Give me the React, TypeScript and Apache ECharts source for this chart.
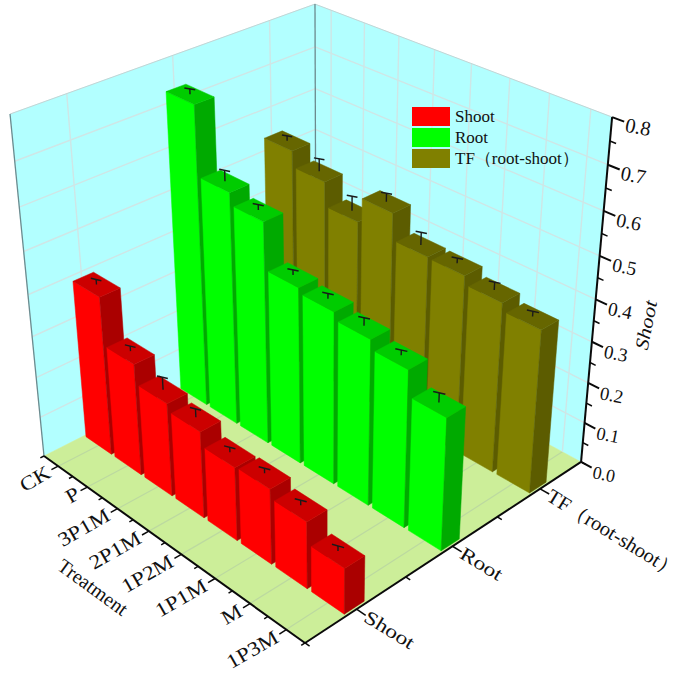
import React, { useEffect, useRef } from "react";
import * as echarts from "echarts";

const treatments = ["CK", "P", "3P1M", "2P1M", "1P2M", "1P1M", "M", "1P3M"];
const depthNames = ["Shoot", "Root", "TF（root-shoot）"];
const zTicks = [0, 0.1, 0.2, 0.3, 0.4, 0.5, 0.6, 0.7, 0.8];
const zMinor = [0.05, 0.15, 0.25, 0.35, 0.45, 0.55, 0.65, 0.75];
const shoot = [0.39, 0.275, 0.229, 0.212, 0.179, 0.182, 0.161, 0.11];
const root = [0.73, 0.568, 0.54, 0.43, 0.418, 0.4, 0.378, 0.318];
const tf = [0.534, 0.496, 0.438, 0.498, 0.435, 0.433, 0.413, 0.395];
const shootErr = [0.012, 0.012, 0.03, 0.02, 0.012, 0.012, 0.012, 0.012];
const rootErr = [0.012, 0.025, 0.012, 0.012, 0.012, 0.018, 0.012, 0.022];
const tfErr = [0.012, 0.03, 0.035, 0.02, 0.03, 0.012, 0.018, 0.012];

const SERIF = "Liberation Serif";
const GRID = 600;

// Perspective camera: floor homography plus vertical vanishing point.
const G = -0.1365, H = 0.1271;
const A = 219.4, B = 312.2, C = 44;
const D = 99.2, E = -97.6, F = 456;
const K = -0.1075, VX = 326, VY = 3295;
function project(u: number, v: number, z: number): number[] {
  const w = G * u + H * v + 1 + z * K;
  return [
    (A * u + B * v + C + z * K * VX) / w,
    (D * u + E * v + F + z * K * VY) / w,
  ];
}

const toZ = (api: any, val: number) => 1 - api.coord([0, val])[1] / GRID;
const toU = (api: any, cat: number) => api.coord([cat, 0])[0] / GRID;

function poly(points: number[][], fill: string) {
  return { type: "polygon", shape: { points }, style: { fill, stroke: fill, lineWidth: 0.5 }, silent: true };
}
function seg(a: number[], b: number[], stroke: string, lineWidth: number) {
  return { type: "line", shape: { x1: a[0], y1: a[1], x2: b[0], y2: b[1] }, style: { stroke, lineWidth }, silent: true };
}
function label(text: string, p: number[], rotation: number, size: number, align: string, scaleX = 1, italic = false) {
  return {
    type: "text", x: p[0], y: p[1], rotation, scaleX, silent: true,
    style: { text, fill: "#111", font: `${italic ? "italic " : ""}${size}px "${SERIF}"`, align, verticalAlign: "middle" },
  };
}

function renderScene(_p: any, api: any) {
  const kids: any[] = [];
  const WALLGRID = "#cfe6e6";
  const FLOORGRID = "#bcd9a0";
  kids.push(poly([project(0, 0, 0), project(0, 1, 0), project(0, 1, 1), project(0, 0, 1)], "#b2ffff"));
  kids.push(poly([project(0, 1, 0), project(1, 1, 0), project(1, 1, 1), project(0, 1, 1)], "#b2ffff"));
  kids.push(poly([project(0, 0, 0), project(1, 0, 0), project(1, 1, 0), project(0, 1, 0)], "#ccee99"));
  const uTicks = treatments.map((_, i) => toU(api, i));
  const vTicks = depthNames.map((_, i) => (i + 0.5) / depthNames.length);
  uTicks.forEach((u) => {
    kids.push(seg(project(u, 0, 0), project(u, 1, 0), FLOORGRID, 1.2));
    kids.push(seg(project(u, 1, 0), project(u, 1, 1), WALLGRID, 1.4));
  });
  vTicks.forEach((v) => {
    kids.push(seg(project(0, v, 0), project(1, v, 0), FLOORGRID, 1.2));
    kids.push(seg(project(0, v, 0), project(0, v, 1), WALLGRID, 1.4));
  });
  zTicks.slice(1, -1).forEach((t) => {
    const z = toZ(api, t);
    kids.push(seg(project(0, 0, z), project(0, 1, z), WALLGRID, 1.4));
    kids.push(seg(project(0, 1, z), project(1, 1, z), WALLGRID, 1.4));
  });
  kids.push(seg(project(0, 0, 1), project(0, 1, 1), "#c4d4d4", 1));
  kids.push(seg(project(0, 1, 1), project(1, 1, 1), "#c4d4d4", 1));
  kids.push(seg(project(0, 0, 0), project(0, 0, 1), "#6c8a8e", 1.3));
  kids.push(seg(project(0, 1, 0), project(0, 1, 1), "#6c8a8e", 1.3));

  // Axes
  const BLACK = "#0a0a0a";
  kids.push(seg(project(0, 0, 0), project(1, 0, 0), BLACK, 2));
  kids.push(seg(project(1, 0, 0), project(1, 1, 0), BLACK, 2));
  kids.push(seg(project(1, 1, 0), project(1, 1, 1), BLACK, 2));
  const n = treatments.length;
  for (let i = 0; i <= n; i++) kids.push(seg(project(i / n, 0, 0), project(i / n, -0.012, 0), BLACK, 1.5));
  uTicks.forEach((u, i) => {
    kids.push(seg(project(u, 0, 0), project(u, -0.022, 0), BLACK, 1.5));
    kids.push(label(treatments[i], project(u, -0.03, 0), 0.52, 20, "right", 1.15));
  });
  for (let i = 0; i <= depthNames.length; i++) {
    const v = i / depthNames.length;
    kids.push(seg(project(1, v, 0), project(1.015, v, 0), BLACK, 1.5));
  }
  vTicks.forEach((v, i) => {
    kids.push(seg(project(1, v, 0), project(1.03, v, 0), BLACK, 1.5));
    kids.push(label(depthNames[i], project(1.03, v, 0), -0.55, i === 2 ? 20 : 19, "left", i === 2 ? 1.03 : 1.25));
  });
  zTicks.forEach((t) => {
    const z = toZ(api, t);
    kids.push(seg(project(1, 1, z), project(1.035, 1, z), BLACK, 2));
    kids.push(label(t.toFixed(1), project(1.075, 1, z), -0.19, 18 + 2.5 * z, "center"));
  });
  zMinor.forEach((t) => {
    const z = toZ(api, t);
    kids.push(seg(project(1, 1, z), project(1.018, 1, z), BLACK, 1.5));
  });
  kids.push(label("Shoot", [646, 325], 1.37, 19, "center", 1.15, true));
  kids.push(label("Treatment", [93, 587], -0.63, 20, "center"));
  return { type: "group", children: kids };
}

const DU = 0.055, DV = 0.033;
function makeBar(depthIndex: number, errs: number[], front: string, side: string, top: string) {
  return (_p: any, api: any) => {
    const cat = api.value(0) as number;
    const val = api.value(1) as number;
    const u = toU(api, cat);
    const v = (depthIndex + 0.5) / depthNames.length;
    const z = toZ(api, val);
    const ez = toZ(api, val + errs[cat]);
    const u0 = u - DU, u1 = u + DU, v0 = v - DV, v1 = v + DV;
    const kids: any[] = [
      poly([project(u0, v0, 0), project(u1, v0, 0), project(u1, v0, z), project(u0, v0, z)], front),
      poly([project(u1, v0, 0), project(u1, v1, 0), project(u1, v1, z), project(u1, v0, z)], side),
      poly([project(u0, v0, z), project(u1, v0, z), project(u1, v1, z), project(u0, v1, z)], top),
      seg(project(u, v, z), project(u, v, ez), "#1a1a1a", 1.4),
      seg(project(u - 0.014, v - 0.006, ez), project(u + 0.014, v + 0.006, ez), "#1a1a1a", 1.5),
    ];
    return { type: "group", children: kids };
  };
}

const rows = (vals: number[]) => vals.map((val, i) => [i, val]);

export default function App() {
  const ref = useRef<HTMLDivElement>(null);
  useEffect(() => {
    const chart = echarts.init(ref.current!, undefined, { renderer: "svg" });
    chart.setOption({
      animation: false,
      backgroundColor: "#fff",
      grid: { left: 0, top: 0, width: GRID, height: GRID, show: false },
      xAxis: { type: "category", data: treatments, show: false },
      yAxis: { type: "value", min: 0, max: 0.8, interval: 0.1, show: false },
      legend: {
        left: 412, top: 107, padding: 0, orient: "vertical", itemWidth: 38, itemHeight: 19, itemGap: 2,
        icon: "rect", selectedMode: false, data: depthNames,
        textStyle: { fontFamily: SERIF, fontSize: 17, color: "#111" },
      },
      series: [
        { type: "custom", name: "axes", data: [[0, 0]], renderItem: renderScene, silent: true, z: 1 },
        { type: "custom", name: depthNames[2], data: rows(tf), renderItem: makeBar(2, tfErr, "#808000", "#5c5c00", "#666600"), itemStyle: { color: "#808000" }, z: 2 },
        { type: "custom", name: depthNames[1], data: rows(root), renderItem: makeBar(1, rootErr, "#00ff00", "#00aa00", "#00cc00"), itemStyle: { color: "#00ff00" }, z: 3 },
        { type: "custom", name: depthNames[0], data: rows(shoot), renderItem: makeBar(0, shootErr, "#ff0000", "#aa0000", "#cc0000"), itemStyle: { color: "#ff0000" }, z: 4 },
      ],
    });
    return () => chart.dispose();
  }, []);
  return <div ref={ref} style={{ position: "fixed", left: 0, top: 0, width: 685, height: 674 }} />;
}
